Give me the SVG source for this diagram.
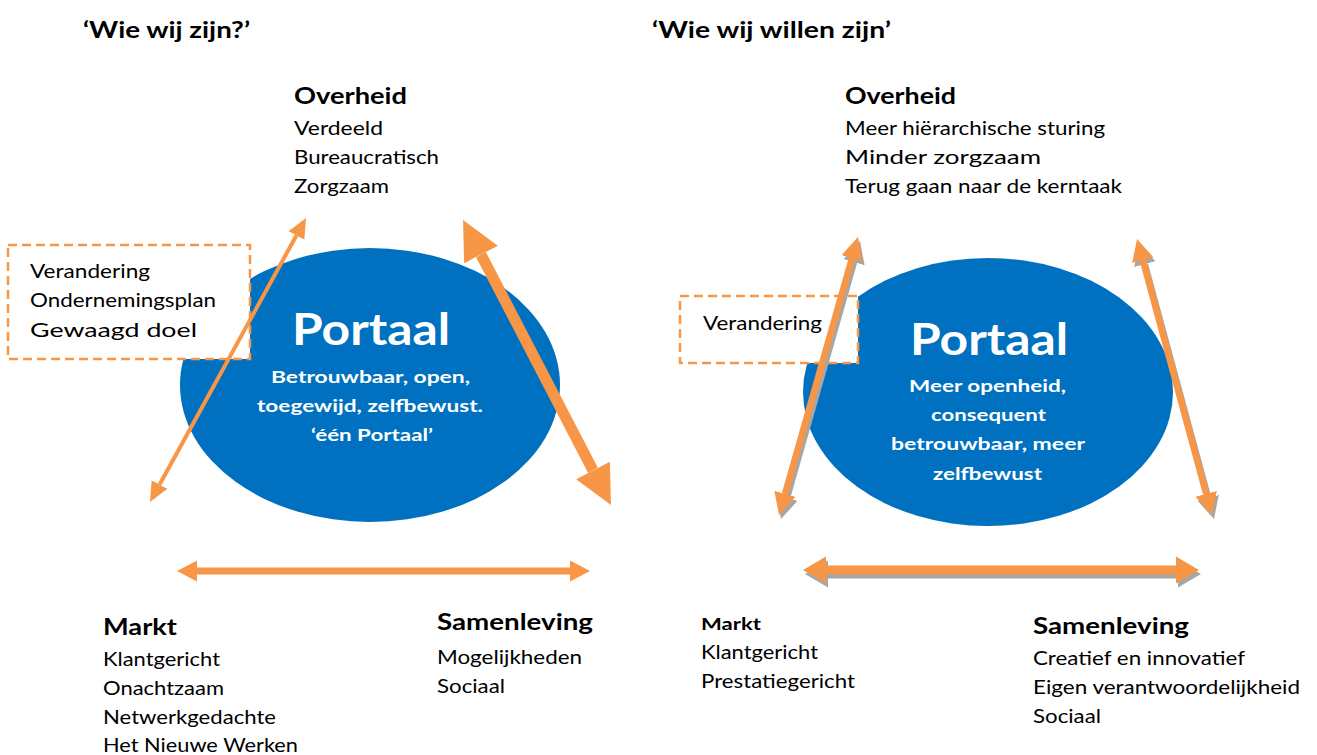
<svg xmlns="http://www.w3.org/2000/svg" width="1317" height="755" viewBox="0 0 1317 755">
  <style>
    text { font-family: Lato, "Open Sans", "Liberation Sans", sans-serif; fill: #000; }
    .title { font-size: 22px; font-weight: 700; }
    .head { font-size: 22px; font-weight: 700; }
    .head-sm { font-size: 17px; font-weight: 700; }
    .body { font-size: 19px; }
    .core { font-size: 44px; font-weight: 700; fill: #fff; text-anchor: middle; }
    .core-sub { font-size: 17.5px; font-weight: 700; fill: #fff; text-anchor: middle; }
    .blob { fill: #0070C0; }
    .change { fill: #fff; stroke: #F79646; stroke-width: 2.5; stroke-dasharray: 9 5; }
    .arr { stroke: #F79646; fill: none; }
    .shadow { stroke: #A6A6A6; fill: none; }
  </style>
  <defs>
    <!-- arrowheads: base sits on the line end, tip points outward -->
    <marker id="head-s" markerUnits="userSpaceOnUse" markerWidth="22" markerHeight="20" refX="0" refY="10" orient="auto-start-reverse" viewBox="0 0 22 20">
      <path d="M0,1 L20,10 L0,19 Z" fill="#F79646"/>
    </marker>
    <marker id="head-l" markerUnits="userSpaceOnUse" markerWidth="40" markerHeight="40" refX="0" refY="20" orient="auto-start-reverse" viewBox="0 0 40 40">
      <path d="M0,1 L39,20 L0,39 Z" fill="#F79646"/>
    </marker>
    <marker id="head-h" markerUnits="userSpaceOnUse" markerWidth="22" markerHeight="22" refX="0" refY="11" orient="auto-start-reverse" viewBox="0 0 22 22">
      <path d="M0,0.5 L20,11 L0,21.5 Z" fill="#F79646"/>
    </marker>
    <marker id="head-m" markerUnits="userSpaceOnUse" markerWidth="24" markerHeight="24" refX="0" refY="12" orient="auto-start-reverse" viewBox="0 0 24 24">
      <path d="M0,1 L22,12 L0,23 Z" fill="#F79646"/>
    </marker>
    <marker id="head-m-sh" markerUnits="userSpaceOnUse" markerWidth="24" markerHeight="24" refX="0" refY="12" orient="auto-start-reverse" viewBox="0 0 24 24">
      <path d="M0,1 L22,12 L0,23 Z" fill="#A6A6A6"/>
    </marker>
    <marker id="head-w" markerUnits="userSpaceOnUse" markerWidth="24" markerHeight="28" refX="0" refY="14" orient="auto-start-reverse" viewBox="0 0 24 28">
      <path d="M0,0.5 L23,14 L0,27.5 Z" fill="#F79646"/>
    </marker>
    <marker id="head-w-sh" markerUnits="userSpaceOnUse" markerWidth="24" markerHeight="28" refX="0" refY="14" orient="auto-start-reverse" viewBox="0 0 24 28">
      <path d="M0,0.5 L23,14 L0,27.5 Z" fill="#A6A6A6"/>
    </marker>
  </defs>

  <rect width="1317" height="755" fill="#fff"/>

  <!-- headings -->
  <g id="title-now">
    <text class="title" x="83" y="38" textLength="167" lengthAdjust="spacingAndGlyphs">‘Wie wij zijn?’</text>
  </g>
  <g id="title-future">
    <text class="title" x="652" y="38" textLength="239" lengthAdjust="spacingAndGlyphs">‘Wie wij willen zijn’</text>
  </g>

  <!-- ===== current situation ===== -->
  <g id="now-portaal">
    <ellipse class="blob" cx="370" cy="385" rx="190" ry="137"/>
    <text class="core" x="371" y="345" textLength="158" lengthAdjust="spacingAndGlyphs">Portaal</text>
    <text class="core-sub" x="370.5" y="383" textLength="199" lengthAdjust="spacingAndGlyphs">Betrouwbaar, open,</text>
    <text class="core-sub" x="370" y="412" textLength="226" lengthAdjust="spacingAndGlyphs">toegewijd, zelfbewust.</text>
    <text class="core-sub" x="372" y="441" textLength="122" lengthAdjust="spacingAndGlyphs">‘één Portaal’</text>
  </g>

  <g id="now-verandering">
    <rect class="change" x="8" y="245" width="242" height="114"/>
    <text class="body" x="30" y="278" textLength="120" lengthAdjust="spacingAndGlyphs">Verandering</text>
    <text class="body" x="30" y="307" textLength="186" lengthAdjust="spacingAndGlyphs">Ondernemingsplan</text>
    <text class="body" x="30" y="337" textLength="167" lengthAdjust="spacingAndGlyphs">Gewaagd doel</text>
  </g>

  <g id="now-overheid">
    <text class="head" x="294" y="104" textLength="113" lengthAdjust="spacingAndGlyphs">Overheid</text>
    <text class="body" x="294" y="135" textLength="89" lengthAdjust="spacingAndGlyphs">Verdeeld</text>
    <text class="body" x="294" y="164" textLength="145" lengthAdjust="spacingAndGlyphs">Bureaucratisch</text>
    <text class="body" x="294" y="193" textLength="95" lengthAdjust="spacingAndGlyphs">Zorgzaam</text>
  </g>

  <g id="now-markt">
    <text class="head" x="103" y="635" textLength="74" lengthAdjust="spacingAndGlyphs">Markt</text>
    <text class="body" x="103" y="666" textLength="117" lengthAdjust="spacingAndGlyphs">Klantgericht</text>
    <text class="body" x="103" y="695" textLength="121" lengthAdjust="spacingAndGlyphs">Onachtzaam</text>
    <text class="body" x="103" y="724" textLength="173" lengthAdjust="spacingAndGlyphs">Netwerkgedachte</text>
    <text class="body" x="103" y="752" textLength="195" lengthAdjust="spacingAndGlyphs">Het Nieuwe Werken</text>
  </g>

  <g id="now-samenleving">
    <text class="head" x="437" y="630" textLength="156" lengthAdjust="spacingAndGlyphs">Samenleving</text>
    <text class="body" x="437" y="664" textLength="145" lengthAdjust="spacingAndGlyphs">Mogelijkheden</text>
    <text class="body" x="437" y="693" textLength="68" lengthAdjust="spacingAndGlyphs">Sociaal</text>
  </g>

  <!-- ===== desired situation ===== -->
  <g id="future-portaal">
    <ellipse class="blob" cx="988" cy="392" rx="185" ry="134"/>
    <text class="core" x="989" y="355" textLength="158" lengthAdjust="spacingAndGlyphs">Portaal</text>
    <text class="core-sub" x="987.5" y="392" textLength="157" lengthAdjust="spacingAndGlyphs">Meer openheid,</text>
    <text class="core-sub" x="988.5" y="421" textLength="115" lengthAdjust="spacingAndGlyphs">consequent</text>
    <text class="core-sub" x="988" y="450" textLength="194" lengthAdjust="spacingAndGlyphs">betrouwbaar, meer</text>
    <text class="core-sub" x="987.5" y="480" textLength="109" lengthAdjust="spacingAndGlyphs">zelfbewust</text>
  </g>

  <g id="future-verandering">
    <rect class="change" x="680" y="296" width="178" height="67"/>
    <text class="body" x="703" y="330" textLength="119" lengthAdjust="spacingAndGlyphs">Verandering</text>
  </g>

  <g id="future-overheid">
    <text class="head" x="845" y="104" textLength="111" lengthAdjust="spacingAndGlyphs">Overheid</text>
    <text class="body" x="845" y="135" textLength="260" lengthAdjust="spacingAndGlyphs">Meer hiërarchische sturing</text>
    <text class="body" x="845" y="164" textLength="196" lengthAdjust="spacingAndGlyphs">Minder zorgzaam</text>
    <text class="body" x="845" y="193" textLength="277" lengthAdjust="spacingAndGlyphs">Terug gaan naar de kerntaak</text>
  </g>

  <g id="future-markt">
    <text class="head-sm" x="701" y="630" textLength="60" lengthAdjust="spacingAndGlyphs">Markt</text>
    <text class="body" x="701" y="659" textLength="117" lengthAdjust="spacingAndGlyphs">Klantgericht</text>
    <text class="body" x="701" y="688" textLength="154" lengthAdjust="spacingAndGlyphs">Prestatiegericht</text>
  </g>

  <g id="future-samenleving">
    <text class="head" x="1033" y="634" textLength="156" lengthAdjust="spacingAndGlyphs">Samenleving</text>
    <text class="body" x="1033" y="665" textLength="212" lengthAdjust="spacingAndGlyphs">Creatief en innovatief</text>
    <text class="body" x="1033" y="694" textLength="267" lengthAdjust="spacingAndGlyphs">Eigen verantwoordelijkheid</text>
    <text class="body" x="1033" y="723" textLength="68" lengthAdjust="spacingAndGlyphs">Sociaal</text>
  </g>

  <!-- ===== connectors ===== -->
  <g id="connectors">
    <!-- current: Markt–Overheid, Overheid–Samenleving, Markt–Samenleving -->
    <line class="arr" x1="159.6" y1="484.5" x2="296.4" y2="235.5" stroke-width="4" marker-start="url(#head-s)" marker-end="url(#head-s)"/>
    <line class="arr" x1="481" y1="254.6" x2="593" y2="470.4" stroke-width="11" marker-start="url(#head-l)" marker-end="url(#head-l)"/>
    <line class="arr" x1="197" y1="571" x2="570" y2="571" stroke-width="7" marker-start="url(#head-h)" marker-end="url(#head-h)"/>

    <!-- desired: same relations, with drop shadows -->
    <g transform="translate(2,4)">
      <line class="shadow" x1="785" y1="493.8" x2="852" y2="258.2" stroke-width="6.5" marker-start="url(#head-m-sh)" marker-end="url(#head-m-sh)"/>
      <line class="shadow" x1="1142.8" y1="260.2" x2="1206.2" y2="493.8" stroke-width="6.5" marker-start="url(#head-m-sh)" marker-end="url(#head-m-sh)"/>
      <line class="shadow" x1="826" y1="570" x2="1176" y2="570" stroke-width="9" marker-start="url(#head-w-sh)" marker-end="url(#head-w-sh)"/>
    </g>
    <line class="arr" x1="785" y1="493.8" x2="852" y2="258.2" stroke-width="6.5" marker-start="url(#head-m)" marker-end="url(#head-m)"/>
    <line class="arr" x1="1142.8" y1="260.2" x2="1206.2" y2="493.8" stroke-width="6.5" marker-start="url(#head-m)" marker-end="url(#head-m)"/>
    <line class="arr" x1="826" y1="570" x2="1176" y2="570" stroke-width="9" marker-start="url(#head-w)" marker-end="url(#head-w)"/>
  </g>
</svg>
